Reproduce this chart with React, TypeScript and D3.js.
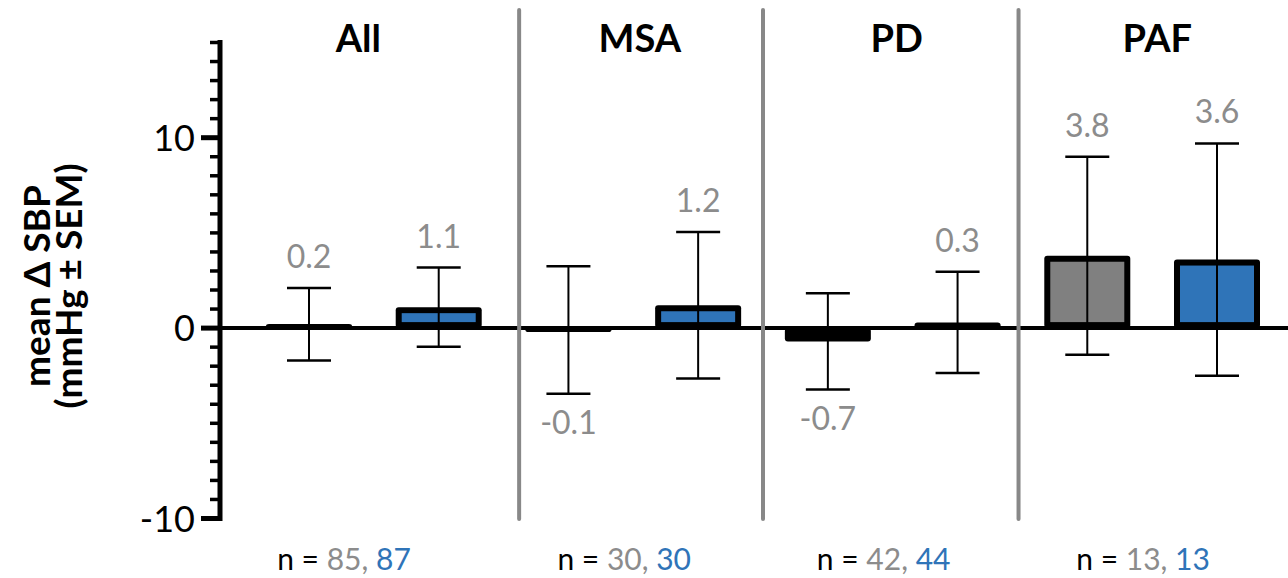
import React from 'react'
import { scaleLinear, range } from 'd3'

// groups and sample sizes
const groups = ['All', 'MSA', 'PD', 'PAF']
const nGrey = [85, 30, 42, 13]
const nBlue = [87, 30, 44, 13]

// mean change and SEM, first (grey) and second (blue) condition
const meanGrey = [0.2, -0.1, -0.7, 3.8]
const semGrey = [1.9, 3.35, 2.53, 5.2]
const meanBlue = [1.1, 1.2, 0.3, 3.6]
const semBlue = [2.08, 3.85, 2.66, 6.1]

const majorTicks = [-10, 0, 10]

// where the separators / group labels sit, in bar-index units
const separatorsAt = [1.62, 3.5, 5.47]
const titleAt = [0.38, 2.55, 4.53, 6.54]
const nLabelAt = [0.27, 2.43, 4.43, 6.43]

const GREY = '#808080'
const BLUE = '#2f74b8'
const LABEL_GREY = '#8c8c8c'
const FONT = 'Lato, "Noto Sans", sans-serif'

export default function App() {
    const width = 1288
    const height = 578
    const axisX = 220
    const barW = 86
    const sw = 6

    const y = scaleLinear().domain([-10, 15]).range([518.5, 42.5])
    const x = scaleLinear().domain([0, 7]).range([309, 1217])
    const y0 = y(0)

    const bars = groups.flatMap((g, i) => [
        { key: g + '-a', idx: i * 2, mean: meanGrey[i], sem: semGrey[i], fill: GREY },
        { key: g + '-b', idx: i * 2 + 1, mean: meanBlue[i], sem: semBlue[i], fill: BLUE },
    ])

    const minorTicks = range(-10, 16).filter(t => !majorTicks.includes(t))

    return (
        <svg
            width={width}
            height={height}
            style={{ position: 'absolute', left: 0, top: 0, background: 'white' }}
            fontFamily={FONT}
        >
            {/* y label */}
            <g fontWeight='bold' fontSize='37' textAnchor='middle' fill='black'>
                <text transform={`translate(50, 286) rotate(-90)`}>mean Δ SBP</text>
                <text transform={`translate(82, 286) rotate(-90)`}>(mmHg ± SEM)</text>
            </g>

            {/* zero line */}
            <line x1={axisX} x2={width} y1={y0} y2={y0} stroke='black' strokeWidth={4} />

            {/* bars */}
            {bars.map(b => {
                const cx = x(b.idx)
                const h = Math.max(Math.abs(y(b.mean) - y0), 4)
                const top = b.mean >= 0 ? y0 - h : y0
                const inner = h - 2 * sw
                return (
                    <g key={b.key}>
                        <rect x={cx - barW / 2} y={top} width={barW} height={h} rx={3} fill='black' />
                        {inner > 4 && (
                            <rect
                                x={cx - barW / 2 + sw}
                                y={top + sw}
                                width={barW - 2 * sw}
                                height={inner}
                                fill={b.fill}
                            />
                        )}
                    </g>
                )
            })}

            {/* error bars + value labels */}
            {bars.map(b => {
                const cx = x(b.idx)
                const hi = y(b.mean + b.sem)
                const lo = y(b.mean - b.sem)
                const label = b.mean.toFixed(1)
                return (
                    <g key={b.key + '-err'}>
                        <line x1={cx} x2={cx} y1={hi} y2={lo} stroke='black' strokeWidth={2} />
                        <line x1={cx - 22} x2={cx + 22} y1={hi} y2={hi} stroke='black' strokeWidth={2.5} />
                        <line x1={cx - 22} x2={cx + 22} y1={lo} y2={lo} stroke='black' strokeWidth={2.5} />
                        <text
                            x={cx}
                            y={b.mean >= 0 ? hi - 20 : lo + 40}
                            textAnchor='middle'
                            fontSize='32'
                            fill={LABEL_GREY}
                        >
                            {label}
                        </text>
                    </g>
                )
            })}

            {/* y axis */}
            <g stroke='black'>
                <line x1={axisX} x2={axisX} y1={y(15) - 2.5} y2={y(-10) + 2.5} strokeWidth={5} />
                {minorTicks.map(t => (
                    <line key={t} x1={axisX - 10} x2={axisX} y1={y(t)} y2={y(t)} strokeWidth={3.5} />
                ))}
                {majorTicks.map(t => (
                    <line key={t} x1={axisX - 19} x2={axisX} y1={y(t)} y2={y(t)} strokeWidth={5} />
                ))}
            </g>
            <g fontSize='36' textAnchor='end' fill='black'>
                {majorTicks.map(t => (
                    <text key={t} x={axisX - 25} y={y(t) + 13}>
                        {t}
                    </text>
                ))}
            </g>

            {/* separators */}
            {separatorsAt.map(s => (
                <line
                    key={s}
                    x1={x(s)}
                    x2={x(s)}
                    y1={10}
                    y2={519}
                    stroke='#888888'
                    strokeWidth={4}
                    strokeLinecap='round'
                />
            ))}

            {/* group titles */}
            <g fontWeight='bold' fontSize='38' textAnchor='middle' fill='black'>
                {groups.map((g, i) => (
                    <text key={g} x={x(titleAt[i])} y={52}>
                        {g}
                    </text>
                ))}
            </g>

            {/* n labels */}
            <g fontSize='30' textAnchor='middle'>
                {groups.map((g, i) => (
                    <text key={g} x={x(nLabelAt[i])} y={570}>
                        <tspan fill='black'>n = </tspan>
                        <tspan fill={LABEL_GREY}>{nGrey[i]}, </tspan>
                        <tspan fill={BLUE}>{nBlue[i]}</tspan>
                    </text>
                ))}
            </g>
        </svg>
    )
}
